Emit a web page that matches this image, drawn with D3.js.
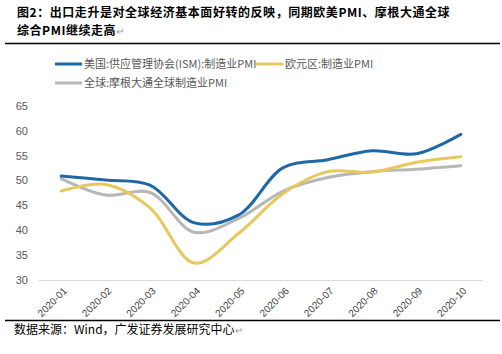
<!DOCTYPE html>
<html lang="zh">
<head>
<meta charset="utf-8">
<title>PMI</title>
<script src="https://d3js.org/d3.v7.min.js"></script>
<style>
  body { margin: 0; background: #fff; }
  text { font-family: "Liberation Sans", Arial, "Noto Sans CJK SC", sans-serif; }
  .cn { font-family: "Noto Sans CJK SC", sans-serif; }
</style>
</head>
<body>
<script>
const months = ["2020-01","2020-02","2020-03","2020-04","2020-05","2020-06","2020-07","2020-08","2020-09","2020-10"];
const usISM  = [50.9, 50.1, 49.1, 41.5, 43.1, 52.6, 54.2, 56.0, 55.4, 59.3];
const euroPMI = [47.9, 49.2, 44.5, 33.4, 39.4, 47.4, 51.8, 51.7, 53.7, 54.8];
const globalPMI = [50.4, 47.1, 47.6, 39.6, 42.4, 47.9, 50.6, 51.8, 52.3, 53.0];
const yTicks = [30, 35, 40, 45, 50, 55, 60, 65];
const seriesNames = ["美国:供应管理协会(ISM):制造业PMI", "欧元区:制造业PMI", "全球:摩根大通全球制造业PMI"];

const W = 502, H = 354;
const svg = d3.select("body").append("svg").attr("width", W).attr("height", H);

// title
const title = svg.append("g").attr("font-weight", "bold").attr("font-size", 12).attr("fill", "#000");
title.append("text").attr("class", "cn").attr("x", 17).attr("y", 17)
  .attr("letter-spacing", 0.55)
  .text("图2：出口走升是对全球经济基本面好转的反映，同期欧美PMI、摩根大通全球");
title.append("text").attr("class", "cn").attr("x", 17).attr("y", 35)
  .attr("letter-spacing", 0.55)
  .text("综合PMI继续走高")
  .append("tspan").attr("font-weight", "normal").attr("fill", "#999").attr("font-size", 10).text("↵");
svg.append("line").attr("x1", 5).attr("x2", 500).attr("y1", 43.5).attr("y2", 43.5)
  .attr("stroke", "#000").attr("stroke-width", 1.3);

const x = d3.scaleBand().domain(months).range([39, 483]);
const y = d3.scaleLinear().domain([30, 65]).range([280, 106]);
const cx = d => x(d) + x.bandwidth() / 2;

// y labels
svg.append("g").selectAll("text").data(yTicks).join("text")
  .attr("x", 28).attr("y", d => y(d)).attr("dy", "0.35em")
  .attr("text-anchor", "end").attr("font-size", 11).attr("fill", "#595959")
  .text(d => d);

// x axis line
svg.append("line").attr("x1", 39).attr("x2", 483).attr("y1", 280.5).attr("y2", 280.5)
  .attr("stroke", "#d9d9d9").attr("stroke-width", 1);

svg.append("g").selectAll("text").data(months).join("text")
  .attr("transform", d => `translate(${cx(d) + 4},${289}) rotate(-45)`)
  .attr("text-anchor", "end").attr("dy", "0.35em")
  .attr("font-size", 10).attr("fill", "#404040")
  .text(d => d);

const colors = ["#1F68A6", "#E8C75C", "#B7B7B7"];
const series = [usISM, euroPMI, globalPMI];
const line = d3.line()
  .x((d, i) => cx(months[i]))
  .y(d => y(d))
  .curve(d3.curveCatmullRom.alpha(0.5));

// draw order: gray, yellow, blue on top
[2, 1, 0].forEach(k => {
  svg.append("path").datum(series[k])
    .attr("d", line).attr("fill", "none")
    .attr("stroke", colors[k]).attr("stroke-width", 3)
    .attr("stroke-linecap", "round");
});

// legend
const legendPos = [[55, 64], [256, 64], [55, 83]];
seriesNames.forEach((name, k) => {
  const [lx, ly] = legendPos[k];
  svg.append("line").attr("x1", lx).attr("x2", lx + 27).attr("y1", ly).attr("y2", ly)
    .attr("stroke", colors[k]).attr("stroke-width", 3);
  svg.append("text").attr("class", "cn").attr("x", lx + 29).attr("y", ly).attr("dy", "0.35em")
    .attr("font-size", 11).attr("fill", "#595959").text(name);
});

// source
svg.append("line").attr("x1", 5).attr("x2", 500).attr("y1", 320.5).attr("y2", 320.5)
  .attr("stroke", "#000").attr("stroke-width", 1.3);
svg.append("text").attr("class", "cn").attr("x", 14).attr("y", 334)
  .attr("font-size", 12).attr("fill", "#000")
  .text("数据来源：Wind，广发证券发展研究中心")
  .append("tspan").attr("fill", "#999").attr("font-size", 10).text("↵");
</script>
</body>
</html>
